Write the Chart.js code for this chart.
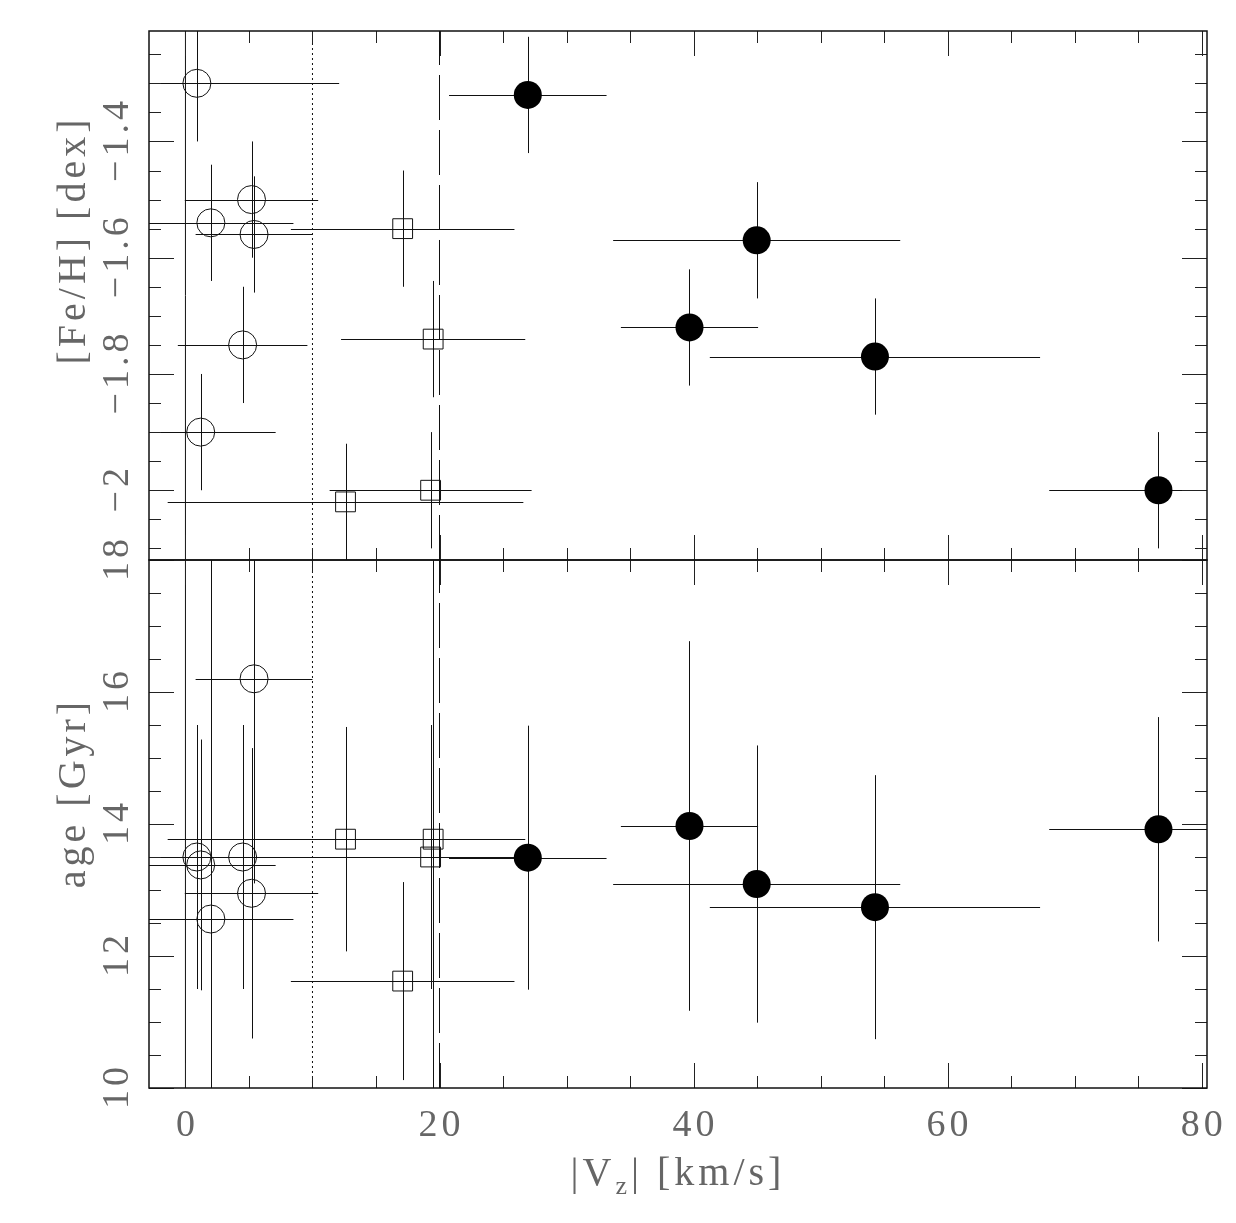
<!DOCTYPE html>
<html>
<head>
<meta charset="utf-8">
<script src="https://cdn.jsdelivr.net/npm/chart.js@4.4.0/dist/chart.umd.min.js"></script>
<style>
  html, body { margin: 0; padding: 0; background: #fff; }
  #wrap { position: relative; width: 1236px; height: 1223px; }
  #wrap canvas { position: absolute; left: 0; top: 0; }
</style>
</head>
<body>
<div id="wrap">
  <canvas id="chart-feh" width="1236" height="1223"></canvas>
  <canvas id="chart-age" width="1236" height="1223"></canvas>
</div>
<script>
/* ============ datos ============ */

// estrellas con circulo abierto
const openVz     = [0.9, 2.0, 5.2, 5.4, 4.5, 1.2];
const openVzErr  = [11.2, 6.5, 5.25, 4.6, 5.1, 5.9];
const openFeH    = [-1.30, -1.54, -1.50, -1.56, -1.75, -1.90];
const openFeHErr = [0.10, 0.10, 0.10, 0.10, 0.10, 0.10];
const openAge    = [13.50, 12.56, 12.95, 16.20, 13.50, 13.38];
const openAgeErr = [2.0, 6.0, 2.2, 3.1, 2.0, 1.9];

// estrellas con cuadrado
const squareVz     = [17.1, 19.5, 19.3, 12.6];
const squareVzErr  = [8.8, 7.25, 7.95, 14.0];
const squareFeH    = [-1.55, -1.74, -2.00, -2.02];
const squareFeHErr = [0.10, 0.10, 0.10, 0.10];
const squareAge    = [11.62, 13.77, 13.50, 13.77];
const squareAgeErr = [1.5, 6.0, 2.0, 1.7];

// estrellas con circulo lleno
const filledVz     = [26.95, 44.97, 39.68, 54.28, 76.6];
const filledVzErr  = [6.2, 11.3, 5.4, 13.0, 8.6];
const filledFeH    = [-1.32, -1.57, -1.72, -1.77, -2.00];
const filledFeHErr = [0.10, 0.10, 0.10, 0.10, 0.10];
const filledAge    = [13.49, 13.09, 13.97, 12.74, 13.92];
const filledAgeErr = [2.0, 2.1, 2.8, 2.0, 1.7];

// lineas verticales: solida, punteada, discontinua
const refLineVz = [0, 10, 20];

const xRange   = [-2.87, 80.42];
const fehRange = [-2.12, -1.21];
const ageRange = [10, 18];

const xMajorTicks   = [0, 20, 40, 60, 80];
const xTickLabels   = ['0', '20', '40', '60', '80'];
const fehMajorTicks = [-2.0, -1.8, -1.6, -1.4];
const fehTickLabels = ['\u22122', '\u22121.8', '\u22121.6', '\u22121.4'];
const ageMajorTicks = [10, 12, 14, 16, 18];
const ageTickLabels = ['10', '12', '14', '16', '18'];

/* ============ plugin de marco, ticks y errores ============ */

const FONT = '"Liberation Serif", "DejaVu Serif", serif';
const TEXT_COLOR = '#666';

const steps = (min, max, step) => {
  const out = [];
  for (let k = Math.ceil(min / step - 1e-6); k * step <= max + 1e-6; k++) out.push(+(k * step).toFixed(6));
  return out;
};
const isIn = (v, list) => list.some(m => Math.abs(m - v) < 1e-6);

function panelPlugin(cfg) {
  return {
    id: 'panel',
    beforeDatasetsDraw(chart) {
      const { ctx, chartArea: a, scales: { x, y } } = chart;
      ctx.save();
      ctx.beginPath();
      ctx.rect(a.left, a.top, a.right - a.left, a.bottom - a.top);
      ctx.clip();
      ctx.strokeStyle = '#111';
      ctx.lineWidth = 1;
      ctx.beginPath();
      chart.data.datasets.forEach(ds => {
        if (!ds.errX) return;
        ds.data.forEach((p, i) => {
          const hy = Math.round(y.getPixelForValue(p.y)) + 0.5;
          const vx = Math.round(x.getPixelForValue(p.x)) + 0.5;
          ctx.moveTo(x.getPixelForValue(p.x - ds.errX[i]), hy);
          ctx.lineTo(x.getPixelForValue(p.x + ds.errX[i]), hy);
          ctx.moveTo(vx, y.getPixelForValue(p.y - ds.errY[i]));
          ctx.lineTo(vx, y.getPixelForValue(p.y + ds.errY[i]));
        });
      });
      ctx.stroke();
      ctx.restore();
    },
    afterDraw(chart) {
      const { ctx, chartArea: a, scales: { x, y } } = chart;
      ctx.save();

      // ticks hacia adentro en los cuatro lados
      ctx.strokeStyle = '#222';
      ctx.lineWidth = 1;
      ctx.beginPath();
      steps(x.min, x.max, cfg.xMinorStep).forEach(v => {
        const len = isIn(v, xMajorTicks) ? 25 : 12;
        const px = Math.round(x.getPixelForValue(v)) + 0.5;
        ctx.moveTo(px, a.bottom); ctx.lineTo(px, a.bottom - len);
        ctx.moveTo(px, a.top); ctx.lineTo(px, a.top + len);
      });
      steps(y.min, y.max, cfg.yMinorStep).forEach(v => {
        const len = isIn(v, cfg.yMajor) ? 25 : 12;
        const py = Math.round(y.getPixelForValue(v)) + 0.5;
        ctx.moveTo(a.left, py); ctx.lineTo(a.left + len, py);
        ctx.moveTo(a.right, py); ctx.lineTo(a.right - len, py);
      });
      ctx.stroke();

      // marco
      ctx.lineWidth = 1.5;
      ctx.strokeStyle = '#111';
      ctx.strokeRect(a.left, a.top, a.right - a.left, a.bottom - a.top);

      ctx.fillStyle = TEXT_COLOR;
      ctx.letterSpacing = '4px';

      // etiquetas del eje y (giradas)
      ctx.font = '38px ' + FONT;
      ctx.textAlign = 'center';
      ctx.textBaseline = 'alphabetic';
      cfg.yMajor.forEach((v, i) => {
        ctx.save();
        ctx.translate(128, y.getPixelForValue(v));
        ctx.rotate(-Math.PI / 2);
        ctx.fillText(cfg.yLabels[i], 2, 0);
        ctx.restore();
      });

      // titulo del eje y
      ctx.font = '40px ' + FONT;
      ctx.save();
      ctx.translate(85, cfg.titleY);
      ctx.rotate(-Math.PI / 2);
      ctx.fillText(cfg.title, 2, 0);
      ctx.restore();

      if (cfg.xLabels) {
        ctx.font = '38px ' + FONT;
        xMajorTicks.forEach((v, i) => {
          ctx.fillText(xTickLabels[i], x.getPixelForValue(v) + 2, 1136);
        });

        // |Vz| [km/s] con subindice
        const parts = [
          { t: '|V', size: 40, dy: 0 },
          { t: 'z', size: 26, dy: 9 },
          { t: '| [km/s]', size: 40, dy: 0 }
        ];
        ctx.textAlign = 'left';
        const widths = parts.map(p => { ctx.font = p.size + 'px ' + FONT; return ctx.measureText(p.t).width; });
        let cx = 678 - widths.reduce((s, w) => s + w, 0) / 2;
        parts.forEach((p, i) => {
          ctx.font = p.size + 'px ' + FONT;
          ctx.fillText(p.t, cx, 1185 + p.dy);
          cx += widths[i];
        });
      }
      ctx.restore();
    }
  };
}

/* ============ datasets ============ */

function buildDatasets(yRange, openY, openYErr, squareY, squareYErr, filledY, filledYErr) {
  const refDash = [[], [2, 3], [45, 10]];
  const refs = refLineVz.map((v, i) => ({
    type: 'scatter',
    showLine: true,
    data: [{ x: v, y: yRange[0] }, { x: v, y: yRange[1] }],
    borderColor: '#111',
    borderWidth: 1,
    borderDash: refDash[i],
    pointRadius: 0
  }));

  const open = {
    type: 'scatter',
    data: openVz.map((v, i) => ({ x: v, y: openY[i] })),
    errX: openVzErr, errY: openYErr,
    pointStyle: 'circle', pointRadius: 14,
    borderColor: '#111', borderWidth: 1,
    backgroundColor: 'rgba(0,0,0,0)'
  };
  const squares = {
    type: 'scatter',
    data: squareVz.map((v, i) => ({ x: v, y: squareY[i] })),
    errX: squareVzErr, errY: squareYErr,
    pointStyle: 'rect', pointRadius: 14,
    borderColor: '#111', borderWidth: 1,
    backgroundColor: 'rgba(0,0,0,0)'
  };
  const filled = {
    type: 'scatter',
    data: filledVz.map((v, i) => ({ x: v, y: filledY[i] })),
    errX: filledVzErr, errY: filledYErr,
    pointStyle: 'circle', pointRadius: 14,
    borderColor: '#000', borderWidth: 0,
    backgroundColor: '#000'
  };
  return [...refs, open, squares, filled];
}

function panelOptions(yRange, padding) {
  return {
    responsive: false,
    animation: false,
    events: [],
    layout: { padding },
    plugins: { legend: { display: false }, tooltip: { enabled: false } },
    scales: {
      x: { type: 'linear', min: xRange[0], max: xRange[1], display: false },
      y: { type: 'linear', min: yRange[0], max: yRange[1], display: false }
    }
  };
}

/* ============ panel superior: [Fe/H] ============ */

new Chart(document.getElementById('chart-feh'), {
  type: 'scatter',
  data: { datasets: buildDatasets(fehRange, openFeH, openFeHErr, squareFeH, squareFeHErr, filledFeH, filledFeHErr) },
  options: panelOptions(fehRange, { left: 149, right: 29, top: 31, bottom: 663 }),
  plugins: [panelPlugin({
    yMajor: fehMajorTicks, yLabels: fehTickLabels, yMinorStep: 0.05, xMinorStep: 5,
    title: '[Fe/H] [dex]', titleY: 242, xLabels: false
  })]
});

/* ============ panel inferior: edad ============ */

new Chart(document.getElementById('chart-age'), {
  type: 'scatter',
  data: { datasets: buildDatasets(ageRange, openAge, openAgeErr, squareAge, squareAgeErr, filledAge, filledAgeErr) },
  options: panelOptions(ageRange, { left: 149, right: 29, top: 560, bottom: 135 }),
  plugins: [panelPlugin({
    yMajor: ageMajorTicks, yLabels: ageTickLabels, yMinorStep: 0.5, xMinorStep: 5,
    title: 'age [Gyr]', titleY: 795, xLabels: true
  })]
});
</script>
</body>
</html>
